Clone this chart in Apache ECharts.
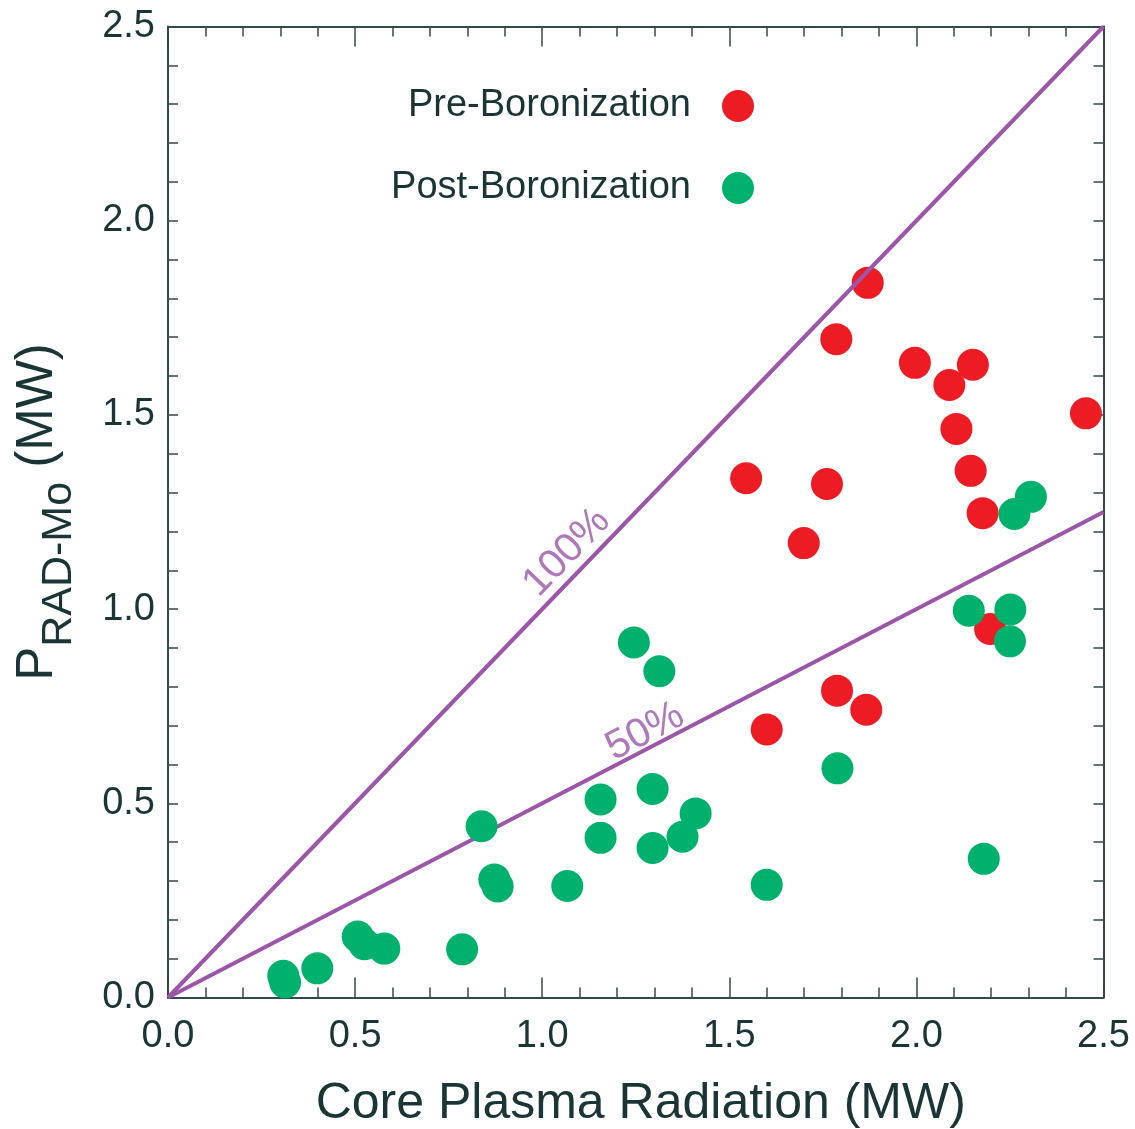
<!DOCTYPE html>
<html>
<head>
<meta charset="utf-8">
<script src="https://cdn.jsdelivr.net/npm/echarts@6/dist/echarts.min.js"></script>
<style>
html,body{margin:0;padding:0;background:#fff;}
#main{width:1135px;height:1129px;}
</style>
</head>
<body>
<div id="main"></div>
<script>
// ---- data ----
const seriesNames = ['Pre-Boronization', 'Post-Boronization'];
const preX = [1.870, 1.786, 1.996, 2.151, 2.088, 2.107, 2.453, 2.145, 1.545, 1.761, 2.177, 1.699, 2.197, 1.788, 1.866, 1.600];
const preY = [1.840, 1.695, 1.634, 1.629, 1.577, 1.464, 1.504, 1.356, 1.337, 1.322, 1.247, 1.170, 0.949, 0.790, 0.741, 0.690];
const postX = [0.308, 0.313, 0.399, 0.507, 0.525, 0.578, 0.786, 0.838, 0.872, 0.881, 1.067, 1.156, 1.156, 1.295, 1.295, 1.375, 1.410, 1.600, 1.245, 1.313, 1.789, 2.140, 2.251, 2.250, 2.180, 2.306, 2.262];
const postY = [0.056, 0.039, 0.075, 0.157, 0.137, 0.126, 0.124, 0.441, 0.304, 0.286, 0.287, 0.510, 0.411, 0.537, 0.385, 0.414, 0.474, 0.290, 0.914, 0.840, 0.590, 0.996, 0.999, 0.917, 0.357, 1.289, 1.245];
const refX = [0, 2.5];
const ref100 = [0, 2.5];
const ref50 = [0, 1.25];
const refLabelText = ['100%', '50%'];
const refLabelX = [1.066, 1.275];
const refLabelY = [1.146, 0.684];
const refLabelRot = [46, 27.4];
const axisMin = 0, axisMax = 2.5, axisStep = 0.5;

// ---- styles ----
const FONT = '"Liberation Sans", Arial, Helvetica, sans-serif';
const TXT = '#1b3436';
const AX = '#34494b';
const RED = '#ed1c24';
const GREEN = '#00b16d';
const PURPLE = '#9b56a7';

const zip = (a, b) => a.map((v, i) => [v, b[i]]);

const chart = echarts.init(document.getElementById('main'), null, {renderer: 'canvas'});

function xAx(pos, showLabel) {
  return {
    type: 'value', position: pos, min: axisMin, max: axisMax, interval: axisStep,
    axisLine: {show: true, onZero: false, lineStyle: {color: AX, width: 2}},
    axisTick: {show: true, inside: true, length: 20, lineStyle: {color: AX, width: 1.5}},
    minorTick: {show: true, splitNumber: 5, length: 10, lineStyle: {color: AX, width: 1.5}},
    splitLine: {show: false},
    axisLabel: {show: showLabel, margin: 20, fontSize: 38, color: TXT, fontFamily: FONT,
      formatter: v => v.toFixed(1)},
    name: showLabel ? 'Core Plasma Radiation (MW)' : '',
    nameLocation: 'middle', nameGap: 82,
    nameTextStyle: {fontSize: 50, color: TXT, fontFamily: FONT, padding: [0, 0, 0, 10]}
  };
}
function yAx(pos, showLabel) {
  return {
    type: 'value', position: pos, min: axisMin, max: axisMax, interval: axisStep,
    axisLine: {show: true, onZero: false, lineStyle: {color: AX, width: 2}},
    axisTick: {show: true, inside: true, length: 10, lineStyle: {color: AX, width: 1.5}},
    minorTick: {show: true, splitNumber: 5, length: 10, lineStyle: {color: AX, width: 1.5}},
    splitLine: {show: false},
    axisLabel: {show: showLabel, margin: 13, fontSize: 38, color: TXT, fontFamily: FONT,
      formatter: v => v.toFixed(1)},
    name: showLabel ? '{p|P}{s|RAD-Mo}{p| (MW)}' : '',
    nameLocation: 'middle', nameGap: 62, nameRotate: 90,
    nameTextStyle: {
      color: TXT, fontFamily: FONT,
      rich: {
        p: {fontSize: 51, lineHeight: 50, verticalAlign: 'top', color: TXT, fontFamily: FONT},
        s: {fontSize: 43, lineHeight: 94, color: TXT, fontFamily: FONT}
      }
    }
  };
}

const option = {
  animation: false,
  backgroundColor: '#ffffff',
  grid: {left: 168, right: 31.5, top: 26.5, bottom: 131.5, containLabel: false, outerBoundsMode: 'none'},
  legend: {
    data: seriesNames,
    orient: 'vertical', align: 'right',
    right: 376, top: 82,
    itemWidth: 84, itemHeight: 32, itemGap: 44,
    icon: 'circle',
    textStyle: {fontSize: 38, color: TXT, fontFamily: FONT}
  },
  xAxis: [xAx('bottom', true), xAx('top', false)],
  yAxis: [yAx('left', true), yAx('right', false)],
  series: [
    {
      name: seriesNames[0], type: 'scatter', z: 2,
      symbol: 'circle', symbolSize: 32,
      itemStyle: {color: RED, opacity: 1},
      data: zip(preX, preY)
    },
    {
      name: 'ref100', type: 'line', z: 3, silent: true,
      showSymbol: false, symbol: 'none',
      lineStyle: {color: PURPLE, width: 4},
      data: zip(refX, ref100)
    },
    {
      name: 'ref50', type: 'line', z: 3, silent: true,
      showSymbol: false, symbol: 'none',
      lineStyle: {color: PURPLE, width: 4},
      data: zip(refX, ref50)
    },
    {
      name: 'refLabels', type: 'scatter', z: 3, silent: true,
      symbolSize: 0,
      data: refLabelX.map((x, i) => ({
        value: [x, refLabelY[i]],
        label: {
          show: true, position: 'inside', formatter: refLabelText[i],
          rotate: refLabelRot[i], fontSize: 41, color: PURPLE, fontFamily: FONT,
          align: 'center', verticalAlign: 'middle'
        }
      }))
    },
    {
      name: seriesNames[1], type: 'scatter', z: 4,
      symbol: 'circle', symbolSize: 32,
      itemStyle: {color: GREEN, opacity: 1},
      data: zip(postX, postY)
    }
  ]
};
chart.setOption(option);
</script>
</body>
</html>
